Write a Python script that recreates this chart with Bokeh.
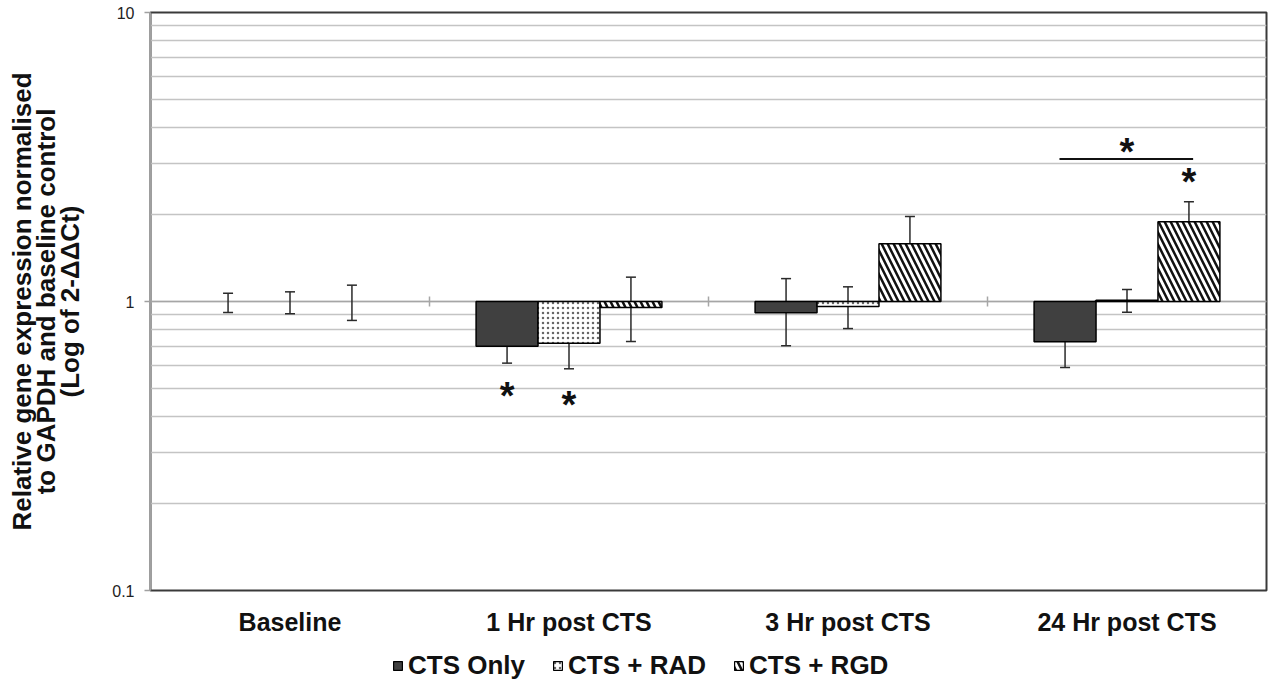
from bokeh.plotting import figure
from bokeh.layouts import column
from bokeh.models import (Range1d, FixedTicker, Whisker, TeeHead, ColumnDataSource,
                          Legend, LegendItem, Span)
from bokeh.core.properties import value
from bokeh.embed import file_html
from bokeh.resources import INLINE
import math

# ---------------- data ----------------
categories = ["Baseline", "1 Hr post CTS", "3 Hr post CTS", "24 Hr post CTS"]
series_names = ["CTS Only", "CTS + RAD", "CTS + RGD"]

cts_only = [1.0, 0.70, 0.915, 0.725]
cts_only_hi = [1.068, 0.79, 1.20, 0.878]
cts_only_lo = [0.916, 0.612, 0.703, 0.591]

cts_rad = [1.0, 0.717, 0.961, 1.01]
cts_rad_hi = [1.08, 0.869, 1.124, 1.10]
cts_rad_lo = [0.907, 0.585, 0.806, 0.918]

cts_rgd = [1.0, 0.953, 1.583, 1.887]
cts_rgd_hi = [1.139, 1.214, 1.968, 2.213]
cts_rgd_lo = [0.86, 0.727, 1.273, 1.584]

y_ticks = [0.1, 1, 10]
y_tick_labels = ["0.1", "1", "10"]
axis_cross = 1.0

# significance annotations: (category index, series index, value)
star_marks = [(1, 0, 0.47), (1, 1, 0.44), (3, 2, 2.60)]
bracket = (3, 0, 2, 3.11)        # category, from series, to series, value
bracket_star = 3.30

# ---------------- styling ----------------
FONT = value("Liberation Sans")
bar_w = 0.222
offsets = [-bar_w, 0.0, bar_w]

styles = [
    dict(fill_color="#404040", line_color="black"),
    dict(fill_color="white", line_color="black", hatch_pattern="dot",
         hatch_color="#666666", hatch_scale=5, hatch_weight=1),
    dict(fill_color="white", line_color="black", hatch_pattern="left_diagonal_line",
         hatch_color="#111111", hatch_scale=12, hatch_weight=2.5),
]

p = figure(width=1268, height=640, y_axis_type="log",
           x_range=Range1d(0, 4), y_range=Range1d(0.1, 10),
           output_backend="svg", toolbar_location=None, title=None,
           min_border_left=150, min_border_right=2, min_border_top=12,
           min_border_bottom=50)

p.background_fill_color = "white"
p.border_fill_color = "white"
p.outline_line_color = "#3a3a3a"
p.outline_line_width = 2

# grid
p.xgrid.grid_line_color = None
p.ygrid.grid_line_color = "#c4c4c4"
p.ygrid.grid_line_width = 1.5
p.ygrid.minor_grid_line_color = "#c4c4c4"
p.ygrid.minor_grid_line_width = 1.5

minor = []
for d in [0.1, 1]:
    for k in range(2, 10):
        minor.append(d * k)
p.yaxis.ticker = FixedTicker(ticks=y_ticks, minor_ticks=minor)
p.yaxis.major_label_overrides = {t: lab for t, lab in zip(y_ticks, y_tick_labels)}
p.yaxis.axis_line_color = "#a0a0a0"
p.yaxis.axis_line_width = 1.5
p.yaxis.major_tick_line_color = "#a0a0a0"
p.yaxis.major_tick_line_width = 1.5
p.yaxis.major_tick_out = 6
p.yaxis.major_tick_in = 0
p.yaxis.minor_tick_line_color = None
p.yaxis.major_label_text_font = "Liberation Sans"
p.yaxis.major_label_text_font_size = "16px"
p.yaxis.major_label_text_color = "#222222"
p.yaxis.major_label_standoff = 10
p.yaxis.axis_label = ("Relative gene expression normalised\n"
                      "to GAPDH and baseline control\n(Log of 2-\u0394\u0394Ct)")
p.yaxis.axis_label_text_font = "Liberation Sans"
p.yaxis.axis_label_text_font_style = "bold"
p.yaxis.axis_label_text_font_size = "26px"
p.yaxis.axis_label_text_color = "#111111"
p.yaxis.axis_label_text_line_height = 0.8
p.yaxis.axis_label_standoff = 24

centers = [i + 0.5 for i in range(len(categories))]
p.xaxis.ticker = FixedTicker(ticks=centers)
p.xaxis.major_label_overrides = {c: lab for c, lab in zip(centers, categories)}
p.xaxis.axis_line_color = None
p.xaxis.major_tick_line_color = None
p.xaxis.minor_tick_line_color = None
p.xaxis.major_label_text_font = "Liberation Sans"
p.xaxis.major_label_text_font_style = "bold"
p.xaxis.major_label_text_font_size = "25px"
p.xaxis.major_label_text_color = "#111111"
p.xaxis.major_label_standoff = 11

# horizontal category axis crossing at 1
p.add_layout(Span(location=axis_cross, dimension="width", line_color="#a6a6a6",
                  line_width=1.5, level="underlay"))
p.scatter(x=[1, 2, 3], y=[axis_cross] * 3, marker="dash", angle=math.pi / 2,
          size=10, line_color="#a6a6a6", line_width=1.5)

# ---------------- bars ----------------
series = [(cts_only, cts_only_hi, cts_only_lo),
          (cts_rad, cts_rad_hi, cts_rad_lo),
          (cts_rgd, cts_rgd_hi, cts_rgd_lo)]

for si, (vals, hi, lo) in enumerate(series):
    xs = [c + offsets[si] for c in centers]
    idx = [i for i, v in enumerate(vals) if v != axis_cross]
    src = ColumnDataSource(dict(x=[xs[i] for i in idx], top=[vals[i] for i in idx]))
    p.vbar(x="x", top="top", bottom=axis_cross, width=bar_w, line_width=1.5,
           source=src, **styles[si])
    esrc = ColumnDataSource(dict(x=xs, upper=hi, lower=lo))
    w = Whisker(base="x", upper="upper", lower="lower", source=esrc,
                line_color="#2a2a2a", line_width=1.5,
                upper_head=TeeHead(size=10, line_color="#2a2a2a", line_width=1.5),
                lower_head=TeeHead(size=10, line_color="#2a2a2a", line_width=1.5))
    p.add_layout(w)

# ---------------- significance marks ----------------
sx = [centers[c] + offsets[s] for c, s, v in star_marks]
sy = [v for c, s, v in star_marks]
bc, bs0, bs1, bv = bracket
p.segment(x0=[centers[bc] + offsets[bs0] - 0.02], y0=[bv],
          x1=[centers[bc] + offsets[bs1] + 0.015], y1=[bv],
          line_color="#111111", line_width=2)
sx.append(centers[bc])
sy.append(bracket_star)
p.text(x=sx, y=sy, text=["*"] * len(sx), text_font=FONT, text_font_style="bold",
       text_font_size="38px", text_align="center", text_baseline="middle",
       text_color="#111111")

# ---------------- legend (separate strip below the chart) ----------------
lp = figure(width=1268, height=47, x_range=Range1d(0, 1), y_range=Range1d(0, 1),
            output_backend="svg", toolbar_location=None, title=None,
            x_axis_location=None, y_axis_location=None,
            min_border_left=0, min_border_right=0, min_border_top=0,
            min_border_bottom=0)
lp.outline_line_color = None
lp.xgrid.grid_line_color = None
lp.ygrid.grid_line_color = None

legend_items = []
for si, name in enumerate(series_names):
    # swatch-only renderer: its single bar has an undefined height, so it is not drawn
    swatch_src = ColumnDataSource(dict(x=[0.5], top=[float("nan")]))
    r = lp.vbar(x="x", top="top", bottom=0, width=0.1, line_width=1.2,
                source=swatch_src, **styles[si])
    legend_items.append(LegendItem(label=name, renderers=[r], index=0))

# the strip's frame is aligned with the chart's frame (left edge at 150 px)
legend = Legend(items=legend_items, orientation="horizontal", location=(242, 6),
                padding=0, margin=0, spacing=27, label_standoff=5,
                glyph_width=11, glyph_height=11,
                label_text_font="Liberation Sans", label_text_font_style="bold",
                label_text_font_size="26px", label_text_color="#111111",
                border_line_color=None, background_fill_alpha=0)
lp.add_layout(legend, "center")

layout = column(p, lp, spacing=0)
open("out.html", "w").write(file_html(layout, INLINE))
